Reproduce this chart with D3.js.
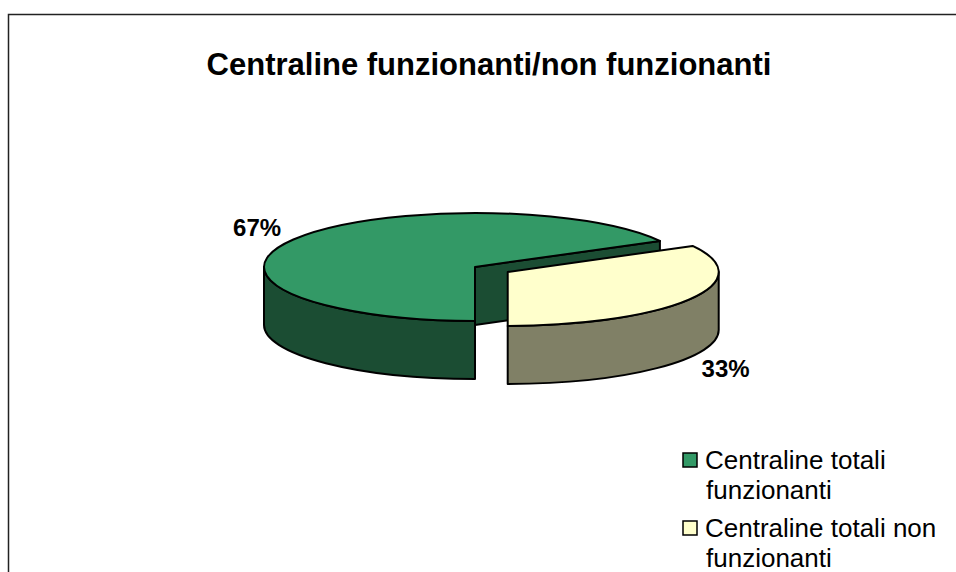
<!DOCTYPE html>
<html>
<head>
<meta charset="utf-8">
<script src="https://cdn.jsdelivr.net/npm/d3@7"></script>
<style>
  html, body { margin: 0; padding: 0; background: #fff; }
  svg { display: block; }
  text { font-family: Arial, "Liberation Sans", sans-serif; }
</style>
</head>
<body>
<script>
// ---- data ----
const title = "Centraline funzionanti/non funzionanti";
const categories = ["Centraline totali funzionanti", "Centraline totali non funzionanti"];
const legendLines = [["Centraline totali", "funzionanti"], ["Centraline totali non", "funzionanti"]];
const values = [67, 33];
const explode = [0, 1];
const topColors = ["#339966", "#FFFFCC"];
const sideColors = ["#1B4D33", "#808066"];

// ---- layout ----
const W = 956, H = 572;
const cx = 475, cy = 267, rx = 211, ry = 54, depth = 58, explodeDist = 38;

const svg = d3.select("body").append("svg").attr("width", W).attr("height", H);

// chart border
svg.append("rect").attr("x", 8.5).attr("y", 14.5).attr("width", W + 20).attr("height", H + 20)
  .attr("fill", "#fff").attr("stroke", "#222").attr("stroke-width", 1.5);

svg.append("text").attr("x", 489).attr("y", 75).attr("text-anchor", "middle")
  .attr("font-size", 31).attr("font-weight", "bold").text(title);

const pie = d3.pie().sort(null).startAngle(Math.PI).endAngle(3 * Math.PI);
const arcs = pie(values);
const total = d3.sum(values);
const pct = d3.format(".0%");

function pt(a, ox, oy, dz) { return [ox + rx * Math.sin(a), oy - ry * Math.cos(a) + (dz || 0)]; }

const slices = arcs.map((d, i) => {
  const mid = (d.startAngle + d.endAngle) / 2;
  const e = explode[i] ? explodeDist : 0;
  const ox = cx + e * Math.sin(mid);
  const oy = cy - e * (ry / rx) * Math.cos(mid);
  return { d, i, mid, ox, oy };
});

const g = svg.append("g").attr("stroke", "#000").attr("stroke-width", 2).attr("stroke-linejoin", "round");

function wallPath(s, a) {
  const p = pt(a, s.ox, s.oy);
  return `M${s.ox},${s.oy}L${p[0]},${p[1]}L${p[0]},${p[1] + depth}L${s.ox},${s.oy + depth}Z`;
}
function sidePath(s, a0, a1) {
  const p0 = pt(a0, s.ox, s.oy), p1 = pt(a1, s.ox, s.oy);
  const large = (a1 - a0) > Math.PI ? 1 : 0;
  return `M${p0[0]},${p0[1]}A${rx},${ry} 0 ${large} 1 ${p1[0]},${p1[1]}` +
         `L${p1[0]},${p1[1] + depth}A${rx},${ry} 0 ${large} 0 ${p0[0]},${p0[1] + depth}Z`;
}
function topPath(s) {
  const a0 = s.d.startAngle, a1 = s.d.endAngle;
  const p0 = pt(a0, s.ox, s.oy), p1 = pt(a1, s.ox, s.oy);
  const large = (a1 - a0) > Math.PI ? 1 : 0;
  return `M${s.ox},${s.oy}L${p0[0]},${p0[1]}A${rx},${ry} 0 ${large} 1 ${p1[0]},${p1[1]}Z`;
}
function frontRanges(a0, a1) {
  const out = [];
  for (let k = -1; k <= 2; k++) {
    const f0 = Math.PI / 2 + 2 * Math.PI * k, f1 = 3 * Math.PI / 2 + 2 * Math.PI * k;
    const s = Math.max(a0, f0), e = Math.min(a1, f1);
    if (e > s + 1e-6) out.push([s, e]);
  }
  return out;
}
function wallVisible(a, isEnd) {
  const n = isEnd ? a + Math.PI / 2 : a - Math.PI / 2;
  return -Math.cos(n) > 0.01;
}

slices.forEach(s => {
  const grp = g.append("g");
  [[s.d.startAngle, false], [s.d.endAngle, true]].forEach(([a, isEnd]) => {
    if (wallVisible(a, isEnd)) grp.append("path").attr("d", wallPath(s, a)).attr("fill", sideColors[s.i]);
  });
  frontRanges(s.d.startAngle, s.d.endAngle).forEach(([a0, a1]) => {
    grp.append("path").attr("d", sidePath(s, a0, a1)).attr("fill", sideColors[s.i]);
  });
  grp.append("path").attr("d", topPath(s)).attr("fill", topColors[s.i]);
});

// labels
slices.forEach(s => {
  const c = Math.cos(s.mid);
  const lx = s.ox + rx * 1.2 * Math.sin(s.mid);
  const ly = s.oy - ry * 1.42 * c + (c < 0 ? depth : 0);
  svg.append("text").attr("x", lx).attr("y", ly + 8).attr("text-anchor", "middle")
    .attr("font-size", 24).attr("font-weight", "bold").text(pct(s.d.value / total));
});

// legend
const leg = svg.append("g");
const itemY = [469, 537];
legendLines.forEach((lines, i) => {
  leg.append("rect").attr("x", 683).attr("y", itemY[i] - 16).attr("width", 14).attr("height", 14)
    .attr("fill", topColors[i]).attr("stroke", "#000").attr("stroke-width", 1.5);
  const t = leg.append("text").attr("x", 705).attr("y", itemY[i]).attr("font-size", 26).attr("fill", "#000");
  lines.forEach((ln, j) => t.append("tspan").attr("x", j ? 706 : 705).attr("dy", j ? 30 : 0).text(ln));
});
</script>
</body>
</html>
